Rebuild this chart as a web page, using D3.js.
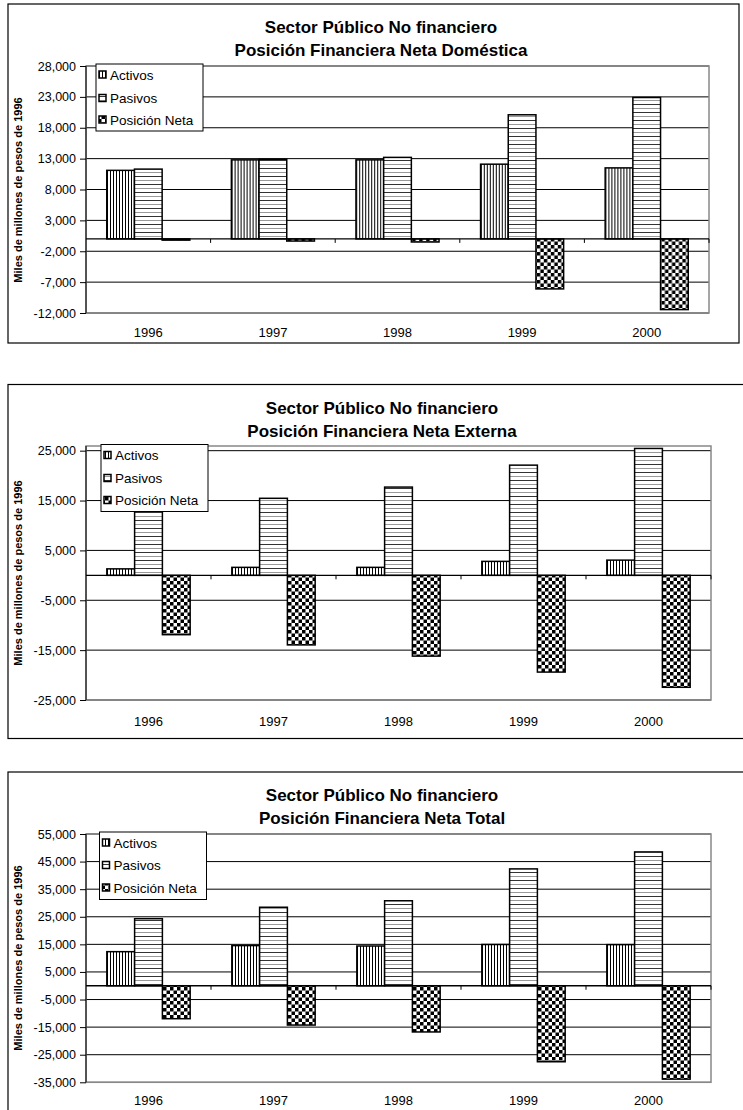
<!DOCTYPE html>
<html>
<head>
<meta charset="utf-8">
<script src="https://cdn.jsdelivr.net/npm/d3@7"></script>
<style>
    body { margin: 0; background: #fff; }
    svg { display: block; font-family: "Liberation Sans", Arial, sans-serif; }
</style>
</head>
<body>
<svg id="chart" width="743" height="1110"></svg>
<script>
// categories and series
var years = ["1996", "1997", "1998", "1999", "2000"];
var seriesNames = ["Activos", "Pasivos", "Posición Neta"];

// Posición Financiera Neta Doméstica
var domActivos = [11100, 12800, 12800, 12100, 11500];
var domPasivos = [11300, 12900, 13200, 20100, 22900];
var domNeta = [-200, -350, -500, -8100, -11450];
var domTicks = [28000, 23000, 18000, 13000, 8000, 3000, -2000, -7000, -12000];

// Posición Financiera Neta Externa
var extActivos = [1300, 1600, 1600, 2800, 3050];
var extPasivos = [13200, 15450, 17700, 22100, 25450];
var extNeta = [-11900, -13950, -16200, -19400, -22450];
var extTicks = [25000, 15000, 5000, -5000, -15000, -25000];

// Posición Financiera Neta Total
var totActivos = [12350, 14550, 14400, 14950, 14900];
var totPasivos = [24300, 28450, 30800, 42350, 48500];
var totNeta = [-11950, -14250, -16750, -27550, -33850];
var totTicks = [55000, 45000, 35000, 25000, 15000, 5000, -5000, -15000, -25000, -35000];

var titleTop = "Sector Público No financiero";

var svg = d3.select("#chart");
var defs = svg.append("defs");

// fill patterns, like the old Excel black and white fills
var pv = defs.append("pattern").attr("id", "pat-v")
    .attr("patternUnits", "userSpaceOnUse").attr("width", 3).attr("height", 3);
pv.append("rect").attr("width", 3).attr("height", 3).attr("fill", "#fff");
pv.append("rect").attr("x", 0).attr("width", 1).attr("height", 3).attr("fill", "#000");

var ph = defs.append("pattern").attr("id", "pat-h")
    .attr("patternUnits", "userSpaceOnUse").attr("width", 8).attr("height", 8);
ph.append("rect").attr("width", 8).attr("height", 8).attr("fill", "#fff");
ph.append("rect").attr("y", 0).attr("width", 8).attr("height", 1).attr("fill", "#333");
ph.append("rect").attr("y", 4).attr("width", 8).attr("height", 1).attr("fill", "#999");

var pc = defs.append("pattern").attr("id", "pat-c")
    .attr("patternUnits", "userSpaceOnUse").attr("width", 7).attr("height", 7);
pc.append("rect").attr("width", 7).attr("height", 7).attr("fill", "#fff");
pc.append("rect").attr("width", 3.5).attr("height", 3.5).attr("fill", "#000");
pc.append("rect").attr("x", 3.5).attr("y", 3.5).attr("width", 3.5).attr("height", 3.5).attr("fill", "#000");

var fills = ["url(#pat-v)", "url(#pat-h)", "url(#pat-c)"];

var fmt = function (d) {
    return d3.format(",")(d).replace("\u2212", "-");
};

function drawChart(cfg) {
    var g = svg.append("g");

    // outer chart border
    g.append("rect")
        .attr("x", cfg.box[0]).attr("y", cfg.box[1])
        .attr("width", cfg.box[2]).attr("height", cfg.box[3])
        .attr("fill", "#fff").attr("stroke", "#000").attr("stroke-width", 1.2);

    // title
    g.append("text")
        .attr("x", cfg.titleX).attr("y", cfg.titleY[0])
        .attr("text-anchor", "middle").attr("dy", "0.35em")
        .attr("font-size", "17px").attr("font-weight", "bold")
        .text(titleTop);
    g.append("text")
        .attr("x", cfg.titleX).attr("y", cfg.titleY[1])
        .attr("text-anchor", "middle").attr("dy", "0.35em")
        .attr("font-size", "17px").attr("font-weight", "bold")
        .text(cfg.title);

    var y = d3.scaleLinear().domain(cfg.domain).range([cfg.bottom, cfg.top]);
    var x0 = d3.scaleBand().domain(years).range([cfg.left, cfg.right]).padding(0);
    var x1 = d3.scaleBand().domain(seriesNames).range([0, x0.bandwidth()])
        .paddingInner(0).paddingOuter(0.75);

    // gridlines
    g.append("g").selectAll("line")
        .data(cfg.ticks)
        .enter().append("line")
        .attr("x1", cfg.left).attr("x2", cfg.right)
        .attr("y1", function (d) { return y(d); })
        .attr("y2", function (d) { return y(d); })
        .attr("stroke", "#000").attr("stroke-width", 1);

    // plot area border
    g.append("rect")
        .attr("x", cfg.left).attr("y", cfg.top)
        .attr("width", cfg.right - cfg.left).attr("height", cfg.bottom - cfg.top)
        .attr("fill", "none").attr("stroke", "#888").attr("stroke-width", 1.5);

    // y axis
    var yAxis = g.append("g")
        .attr("transform", "translate(" + cfg.left + ",0)")
        .call(d3.axisLeft(y).tickValues(cfg.ticks).tickSize(6).tickPadding(4).tickFormat(fmt));
    yAxis.select(".domain").remove();
    yAxis.append("line")
        .attr("x1", 0).attr("x2", 0)
        .attr("y1", cfg.top).attr("y2", cfg.bottom)
        .attr("stroke", "#000");
    yAxis.selectAll("text")
        .attr("font-size", "12.5px").attr("fill", "#000")
        .attr("font-family", "'Liberation Sans', Arial, sans-serif");

    // y axis title
    g.append("text")
        .attr("transform", "translate(" + cfg.yTitle[0] + "," + cfg.yTitle[1] + ") rotate(-90)")
        .attr("text-anchor", "middle").attr("dy", "0.35em")
        .attr("font-size", "11px").attr("font-weight", "bold")
        .text("Miles de millones de pesos de 1996");

    // bars
    var rows = years.map(function (yr, i) {
        return {
            year: yr,
            values: [cfg.data[0][i], cfg.data[1][i], cfg.data[2][i]]
        };
    });

    var groups = g.append("g").selectAll("g")
        .data(rows)
        .enter().append("g")
        .attr("transform", function (d) { return "translate(" + x0(d.year) + ",0)"; });

    groups.selectAll("rect")
        .data(function (d) {
            return d.values.map(function (v, k) { return { name: seriesNames[k], value: v, k: k }; });
        })
        .enter().append("rect")
        .attr("x", function (d) { return x1(d.name); })
        .attr("y", function (d) { return y(Math.max(0, d.value)); })
        .attr("width", x1.bandwidth())
        .attr("height", function (d) { return Math.abs(y(d.value) - y(0)); })
        .attr("fill", function (d) { return fills[d.k]; })
        .attr("stroke", "#000").attr("stroke-width", 1.5);

    // x axis at zero with category tick marks
    g.append("line")
        .attr("x1", cfg.left).attr("x2", cfg.right)
        .attr("y1", y(0)).attr("y2", y(0))
        .attr("stroke", "#000").attr("stroke-width", 1.3);
    g.append("g").selectAll("line")
        .data(years.slice(1).concat(["end"]))
        .enter().append("line")
        .attr("x1", function (d) { return d === "end" ? cfg.right : x0(d); })
        .attr("x2", function (d) { return d === "end" ? cfg.right : x0(d); })
        .attr("y1", y(0)).attr("y2", y(0) + 4)
        .attr("stroke", "#000");

    // category labels
    g.append("g").selectAll("text")
        .data(years)
        .enter().append("text")
        .attr("x", function (d) { return x0(d) + x0.bandwidth() / 2; })
        .attr("y", cfg.labelY)
        .attr("dy", "0.35em")
        .attr("text-anchor", "middle")
        .attr("font-size", "13px")
        .text(function (d) { return d; });

    // legend
    var lg = g.append("g");
    lg.append("rect")
        .attr("x", cfg.legend[0]).attr("y", cfg.legend[1])
        .attr("width", cfg.legend[2]).attr("height", cfg.legend[3])
        .attr("fill", "#fff").attr("stroke", "#000").attr("stroke-width", 1);
    seriesNames.forEach(function (name, k) {
        var cy = cfg.legendY[k];
        lg.append("rect")
            .attr("x", cfg.legend[0] + 3).attr("y", cy - 4)
            .attr("width", 7).attr("height", 7)
            .attr("fill", fills[k]).attr("stroke", "#000").attr("stroke-width", 1.5);
        lg.append("text")
            .attr("x", cfg.legend[0] + 14).attr("y", cy)
            .attr("dy", "0.35em")
            .attr("font-size", "13.5px")
            .text(name);
    });
}

drawChart({
    box: [8, 4, 731, 339],
    title: "Posición Financiera Neta Doméstica",
    titleX: 381, titleY: [27.5, 50],
    left: 86, right: 709, top: 66, bottom: 313,
    domain: [-12000, 28000], ticks: domTicks,
    yTitle: [18, 190], labelY: 332.5,
    legend: [96, 64, 107, 67], legendY: [75, 98.5, 120],
    data: [domActivos, domPasivos, domNeta]
});

drawChart({
    box: [8, 384.5, 740, 354],
    title: "Posición Financiera Neta Externa",
    titleX: 382, titleY: [408, 431],
    left: 86, right: 711, top: 446, bottom: 700,
    domain: [-25000, 25940], ticks: extTicks,
    yTitle: [18, 573], labelY: 721,
    legend: [101, 444.5, 107, 67], legendY: [455.5, 478.5, 500.5],
    data: [extActivos, extPasivos, extNeta]
});

drawChart({
    box: [8, 772, 740, 350],
    title: "Posición Financiera Neta Total",
    titleX: 382, titleY: [795, 818],
    left: 86, right: 711, top: 834, bottom: 1082.3,
    domain: [-35000, 55000], ticks: totTicks,
    yTitle: [18, 958], labelY: 1100.5,
    legend: [99.5, 832, 107, 67.5], legendY: [843, 865.5, 888],
    data: [totActivos, totPasivos, totNeta]
});
</script>
</body>
</html>
